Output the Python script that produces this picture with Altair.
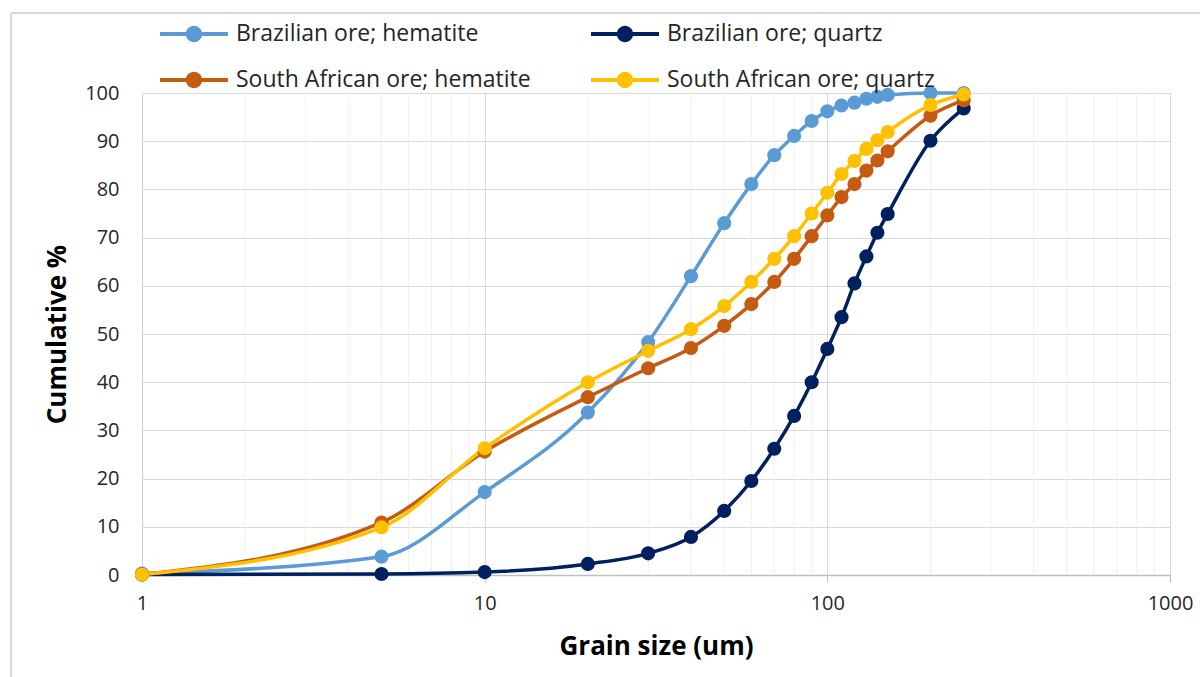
import altair as alt
import pandas as pd

sizes = [1, 5, 10, 20, 30, 40, 50, 60, 70, 80, 90, 100, 110, 120, 130, 140, 150, 200, 250]

series_names = [
    "Brazilian ore; hematite",
    "Brazilian ore; quartz",
    "South African ore; hematite",
    "South African ore; quartz",
]
series_colors = ["#5B9BD5", "#002060", "#C55A11", "#FFC000"]

br_hematite = [0.3, 3.8, 17.2, 33.7, 48.3, 62.0, 73.0, 81.1, 87.1, 91.1, 94.2, 96.2, 97.4, 98.0, 98.8, 99.2, 99.6, 100.0, 100.0]
br_quartz = [0.1, 0.2, 0.6, 2.3, 4.5, 7.9, 13.3, 19.5, 26.2, 33.0, 40.0, 46.9, 53.5, 60.5, 66.1, 71.0, 74.9, 90.1, 96.8]
sa_hematite = [0.1, 10.9, 25.6, 36.9, 42.9, 47.1, 51.7, 56.2, 60.8, 65.6, 70.3, 74.6, 78.4, 81.1, 83.9, 86.0, 87.9, 95.3, 98.5]
sa_quartz = [0.1, 9.9, 26.3, 40.0, 46.5, 51.0, 55.8, 60.8, 65.6, 70.3, 75.0, 79.3, 83.2, 85.9, 88.4, 90.2, 91.9, 97.5, 99.7]

minor_grid = [2, 3, 4, 5, 6, 7, 8, 9, 20, 30, 40, 50, 60, 70, 80, 90, 200, 300, 400, 500, 600, 700, 800, 900]
x_ticks = [1, 10, 100, 1000]
y_ticks = [0, 10, 20, 30, 40, 50, 60, 70, 80, 90, 100]

rows = []
for idx, (name, vals) in enumerate(zip(series_names, [br_hematite, br_quartz, sa_hematite, sa_quartz])):
    for s, v in zip(sizes, vals):
        rows.append({"size": s, "cum": v, "series": name, "order": idx})
df = pd.DataFrame(rows)
grid_df = pd.DataFrame({"g": minor_grid, "y0": 0, "y1": 100})

FONT = "Open Sans"

xscale = alt.Scale(type="log", domain=[1, 1000], nice=False)
yscale = alt.Scale(domain=[0, 100], nice=False)

color = alt.Color(
    "series:N",
    scale=alt.Scale(domain=series_names, range=series_colors),
    legend=alt.Legend(
        title=None,
        orient="none",
        direction="horizontal",
        legendX=18,
        legendY=-93,
        columns=2,
        columnPadding=60,
        rowPadding=-29,
        symbolType="M-1,-0.06 L1,-0.06 L1,0.06 L-1,0.06 Z M0.24,0 A0.24,0.24 0 1,1 -0.24,0 A0.24,0.24 0 1,1 0.24,0 Z",
        symbolSize=4624,
        symbolStrokeWidth=0,
        symbolOpacity=1,
        labelFont=FONT,
        labelFontSize=23,
        labelColor="#262626",
        labelOffset=8,
        labelLimit=500,
    ),
)

minor = alt.Chart(grid_df).mark_rule(color="#efefef", strokeWidth=1).encode(
    x=alt.X("g:Q", scale=xscale),
    y=alt.Y("y0:Q", scale=yscale),
    y2="y1:Q",
)

border_v = alt.Chart(grid_df).mark_rule(color="#d9d9d9", strokeWidth=1).encode(
    x=alt.value(-131), y=alt.value(-80), y2=alt.value(600)
)
border_h = alt.Chart(grid_df).mark_rule(color="#d9d9d9", strokeWidth=1).encode(
    x=alt.value(-131), x2=alt.value(1100), y=alt.value(-80)
)

lines = alt.Chart(df).mark_line(interpolate="monotone", strokeWidth=3.5).encode(
    x=alt.X(
        "size:Q",
        scale=xscale,
        axis=alt.Axis(
            values=x_ticks,
            format="d",
            title="Grain size (um)",
            grid=True,
            gridColor="#d9d9d9",
            domainColor="#bfbfbf",
            domainWidth=1.5,
            tickColor="#bfbfbf",
            tickSize=7,
            labelPadding=11,
            labelFlush=False,
            labelFont=FONT,
            labelFontSize=20,
            labelColor="#262626",
            titleFont=FONT,
            titleFontSize=26,
            titleFontWeight="bold",
            titleColor="#000000",
            titlePadding=20,
        ),
    ),
    y=alt.Y(
        "cum:Q",
        scale=yscale,
        axis=alt.Axis(
            values=y_ticks,
            title="Cumulative %",
            grid=True,
            gridColor="#d9d9d9",
            domain=True,
            domainColor="#d0d0d0",
            ticks=False,
            labelPadding=23,
            labelFont=FONT,
            labelFontSize=20,
            labelColor="#262626",
            titleFont=FONT,
            titleFontSize=26,
            titleFontWeight="bold",
            titleColor="#000000",
            titlePadding=14,
        ),
    ),
    color=color,
    detail="series:N",
    order="order:Q",
)

points = alt.Chart(df).mark_point(filled=True, size=200, opacity=1, strokeWidth=1).encode(
    x=alt.X("size:Q", scale=xscale),
    y=alt.Y("cum:Q", scale=yscale),
    color=alt.Color("series:N", scale=alt.Scale(domain=series_names, range=series_colors), legend=None),
    order="order:Q",
)

chart = (
    alt.layer(minor, border_v, border_h, lines, points)
    .properties(
        width=1028,
        height=482,
        autosize=alt.AutoSizeParams(type="none"),
        padding={"left": 142, "top": 93, "right": 30, "bottom": 102},
    )
    .configure_view(stroke=None)
    .configure(background="white")
)

chart.save("out.html", embed_options={"renderer": "svg", "actions": False})
